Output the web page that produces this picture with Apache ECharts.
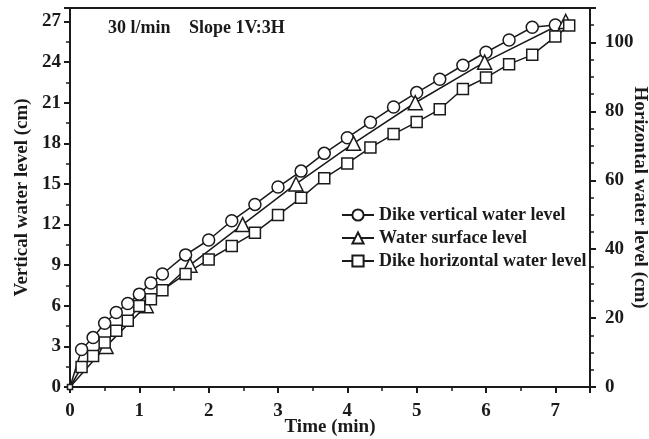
<!DOCTYPE html>
<html>
<head>
<meta charset="utf-8">
<script src="https://cdn.jsdelivr.net/npm/echarts@6/dist/echarts.min.js"></script>
<style>html,body{margin:0;padding:0;background:#fff}#c{width:649px;height:439px}</style>
</head>
<body>
<div id="c"></div>
<script>
// Time (min) for dike measurements
const timeDike = [0, 0.167, 0.333, 0.5, 0.667, 0.833, 1.0, 1.167, 1.333, 1.667, 2.0, 2.333, 2.667, 3.0, 3.333, 3.667, 4.0, 4.333, 4.667, 5.0, 5.333, 5.667, 6.0, 6.333, 6.667, 7.0];
const timeHoriz = [0, 0.167, 0.333, 0.5, 0.667, 0.833, 1.0, 1.167, 1.333, 1.667, 2.0, 2.333, 2.667, 3.0, 3.333, 3.667, 4.0, 4.333, 4.667, 5.0, 5.333, 5.667, 6.0, 6.333, 6.667, 7.0, 7.2];
const timeSurface = [0, 0.52, 1.10, 1.73, 2.49, 3.26, 4.09, 4.98, 5.98, 7.15];
// Values
const dikeVertical = [0, 2.77, 3.65, 4.71, 5.50, 6.17, 6.86, 7.68, 8.35, 9.76, 10.86, 12.28, 13.49, 14.77, 15.95, 17.26, 18.42, 19.56, 20.69, 21.75, 22.74, 23.77, 24.73, 25.64, 26.58, 26.75];
const waterSurface = [0, 3, 6, 9, 12, 15, 18, 21, 24, 27];
const dikeHorizontal = [0, 5.8, 9.0, 12.9, 16.3, 19.2, 23.5, 25.5, 28.1, 32.8, 37.0, 40.9, 44.8, 49.9, 54.9, 60.6, 64.9, 69.5, 73.4, 76.9, 80.6, 86.5, 89.8, 93.7, 96.4, 101.7, 104.9];
const seriesNames = ['Dike vertical water level', 'Water surface level', 'Dike horizontal water level'];
const annotation1 = '30 l/min';
const annotation2 = 'Slope 1V:3H';

const FONT = '"Liberation Serif", "Times New Roman", serif';
const INK = '#1a1a1a';
const FS = 19;
const zip = (xs, ys) => xs.map((x, i) => [x, ys[i]]);
const sizeFn = (full, atOrigin) => (v) => (v[0] === 0 ? atOrigin : full);

const axisCommon = {
  axisLine: { show: true, lineStyle: { color: INK, width: 2 } },
  axisTick: { show: true, inside: false, length: 6, lineStyle: { color: INK, width: 2 } },
  minorTick: { show: true, length: 4, lineStyle: { color: INK, width: 1.5 } },
  splitLine: { show: false },
  nameMoveOverlap: false,
  axisLabel: { color: INK, fontFamily: FONT, fontWeight: 'bold', fontSize: FS },
  nameTextStyle: { color: INK, fontFamily: FONT, fontWeight: 'bold', fontSize: FS }
};

const chart = echarts.init(document.getElementById('c'), null, { renderer: 'canvas' });
chart.setOption({
  animation: false,
  backgroundColor: '#fff',
  grid: { left: 70, right: 59, top: 8, bottom: 52, containLabel: false, outerBoundsMode: 'none', show: true, borderColor: INK, borderWidth: 2, backgroundColor: 'transparent' },
  xAxis: Object.assign({}, axisCommon, {
    type: 'value', min: 0, max: 7.5, interval: 1,
    name: 'Time (min)', nameLocation: 'middle', nameGap: 31,
    minorTick: Object.assign({}, axisCommon.minorTick, { splitNumber: 2 }),
    axisLabel: Object.assign({}, axisCommon.axisLabel, { margin: 15, showMaxLabel: false })
  }),
  yAxis: [
    Object.assign({}, axisCommon, {
      type: 'value', min: 0, max: 28, interval: 3, position: 'left',
      name: 'Vertical water level (cm)', nameLocation: 'middle', nameGap: 38, nameRotate: 90,
      minorTick: Object.assign({}, axisCommon.minorTick, { splitNumber: 2 }),
      axisLabel: Object.assign({}, axisCommon.axisLabel, { margin: 9, showMaxLabel: false })
    }),
    Object.assign({}, axisCommon, {
      type: 'value', min: 0, max: 110, interval: 20, position: 'right',
      name: 'Horizontal water level (cm)', nameLocation: 'middle', nameGap: 40, nameRotate: -90,
      minorTick: Object.assign({}, axisCommon.minorTick, { splitNumber: 4 }),
      axisLabel: Object.assign({}, axisCommon.axisLabel, { margin: 15, showMaxLabel: false })
    })
  ],
  legend: {
    orient: 'vertical', left: 336, top: 201, itemGap: 5, itemWidth: 32, itemHeight: 14,
    textStyle: { color: INK, fontFamily: FONT, fontWeight: 'bold', fontSize: 18 },
    data: seriesNames
  },
  graphic: [
    { type: 'text', left: 108, top: 19, style: { text: annotation1, fill: INK, font: 'bold 18px ' + FONT } },
    { type: 'text', left: 189, top: 19, style: { text: annotation2, fill: INK, font: 'bold 18px ' + FONT } }
  ],
  series: [
    {
      name: seriesNames[0], type: 'line', yAxisIndex: 0, data: zip(timeDike, dikeVertical),
      symbol: 'circle', symbolSize: sizeFn(12, 0), showAllSymbol: true,
      lineStyle: { color: INK, width: 1.5 }, itemStyle: { color: '#fff', borderColor: INK, borderWidth: 1.5 }
    },
    {
      name: seriesNames[1], type: 'line', yAxisIndex: 0, data: zip(timeSurface, waterSurface),
      symbol: 'triangle', symbolSize: sizeFn(14, 0), showAllSymbol: true,
      lineStyle: { color: INK, width: 1.5 }, itemStyle: { color: '#fff', borderColor: INK, borderWidth: 1.5 }
    },
    {
      name: seriesNames[2], type: 'line', yAxisIndex: 1, data: zip(timeHoriz, dikeHorizontal),
      symbol: 'rect', symbolSize: sizeFn(11, 5), showAllSymbol: true,
      lineStyle: { color: INK, width: 1.5 }, itemStyle: { color: '#fff', borderColor: INK, borderWidth: 1.5 }
    }
  ]
});
</script>
</body>
</html>
